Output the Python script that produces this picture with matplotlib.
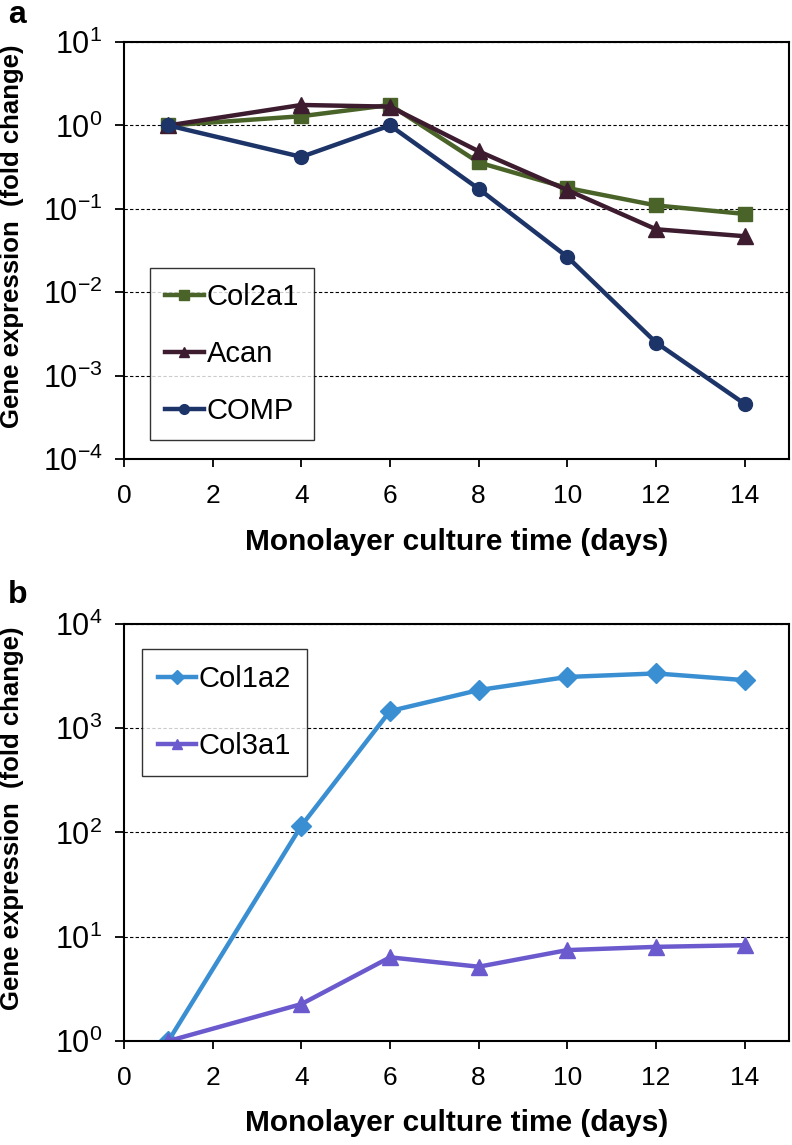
import matplotlib.pyplot as plt
import numpy as np

plt.rcParams['font.family'] = ['Liberation Sans', 'DejaVu Sans']
plt.rcParams['mathtext.fontset'] = 'custom'
plt.rcParams['mathtext.rm'] = 'Liberation Sans'
plt.rcParams['mathtext.default'] = 'regular'

days = [1, 4, 6, 8, 10, 12, 14]

# panel a
col2a1 = [1.0, 1.29, 1.76, 0.36, 0.178, 0.11, 0.087]
acan = [1.0, 1.76, 1.68, 0.49, 0.168, 0.057, 0.047]
comp = [1.0, 0.42, 1.0, 0.174, 0.0266, 0.0025, 0.00046]

# panel b
col1a2 = [1.0, 116, 1460, 2320, 3100, 3350, 2890]
col3a1 = [1.0, 2.26, 6.35, 5.16, 7.45, 8.0, 8.3]

xticks = [0, 2, 4, 6, 8, 10, 12, 14]

fig = plt.figure(figsize=(7.92, 11.45), dpi=100)
ax1 = fig.add_axes([0.1566, 0.599, 0.8396, 0.3643])
ax2 = fig.add_axes([0.1566, 0.0908, 0.8396, 0.3643])


def style(ax, lo, hi):
    ax.set_yscale('log')
    ax.set_ylim(10.0 ** lo, 10.0 ** hi)
    exps = list(range(lo, hi + 1))
    ax.set_yticks([10.0 ** e for e in exps])
    ax.set_yticklabels([r'$10^{%d}$' % e for e in exps])
    ax.yaxis.set_minor_locator(plt.NullLocator())
    ax.set_xlim(0, 15)
    ax.set_xticks(xticks)
    ax.set_xticklabels([str(t) for t in xticks])
    ax.tick_params(axis='y', labelsize=22, direction='out', length=6.5, width=1.3, pad=9)
    ax.tick_params(axis='x', labelsize=19, direction='out', length=6, width=1.3, pad=12)
    for s in ax.spines.values():
        s.set_linewidth(1.5)
    ax.grid(axis='y', which='major', linestyle=(0, (3, 2)), color='black', linewidth=0.8)
    ax.set_axisbelow(True)
    ax.set_xlabel('Monolayer culture time (days)', fontsize=21.5, fontweight='bold',
                  labelpad=14)
    ax.set_ylabel('Gene expression  (fold change)', fontsize=18.5, fontweight='bold')
    ax.yaxis.set_label_coords(-0.15, 0.535)


lw = 3.2
ax1.plot(days, col2a1, '-s', color='#4a6329', lw=lw, ms=10, label='Col2a1')
ax1.plot(days, acan, '-^', color='#3d1c30', lw=lw, ms=11, label='Acan')
ax1.plot(days, comp, '-o', color='#1d3468', lw=lw, ms=10, label='COMP')
style(ax1, -4, 1)
leg = ax1.legend(loc='lower left', bbox_to_anchor=(0.039, 0.046), fontsize=21,
                 frameon=True, fancybox=False, edgecolor='black', handlelength=1.35,
                 handletextpad=0.1, labelspacing=1.0, borderpad=0.5, markerscale=0.7,
                 borderaxespad=0)
leg.get_frame().set_linewidth(1.0)

ax2.plot(days, col1a2, '-D', color='#3a8fd2', lw=lw, ms=10, label='Col1a2')
ax2.plot(days, col3a1, '-^', color='#6a5acd', lw=lw, ms=11, label='Col3a1')
style(ax2, 0, 4)
leg = ax2.legend(loc='upper left', bbox_to_anchor=(0.027, 0.94), fontsize=21,
                 frameon=True, fancybox=False, edgecolor='black', handlelength=1.3,
                 handletextpad=0.1, labelspacing=1.33, borderpad=0.55, markerscale=0.7,
                 borderaxespad=0)
leg.get_frame().set_linewidth(1.0)

fig.text(0.010, 0.980, 'a', fontsize=23, fontweight='bold', va='baseline')
fig.text(0.010, 0.4734, 'b', fontsize=23, fontweight='bold', va='baseline')

fig.savefig('out.png', dpi=100)
